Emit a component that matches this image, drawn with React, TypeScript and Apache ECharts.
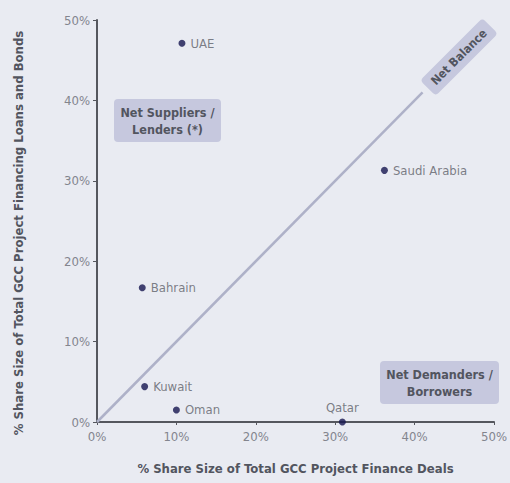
import React, { useEffect, useRef } from "react";
import * as echarts from "echarts";

const countries = ["UAE", "Saudi Arabia", "Bahrain", "Kuwait", "Oman", "Qatar"];
const financeDealsShare = [10.7, 36.2, 5.7, 6.0, 10.0, 30.9];
const loansBondsShare = [47.1, 31.3, 16.7, 4.4, 1.5, 0.0];
const labelPositions = ["right", "right", "right", "right", "right", "top"];
const balanceLine = [[0, 0], [41, 41]];

const FONT = "'DejaVu Sans Condensed', 'Liberation Sans Narrow', Arial, sans-serif";
const BG = "#e9ebf2";
const BOX = "#c6c8de";
const TXT = "#52555f";

export default function App() {
  const ref = useRef<HTMLDivElement>(null);
  useEffect(() => {
    if (!ref.current) return;
    const chart = echarts.init(ref.current, null, { renderer: "svg" });
    const points = countries.map((c, i) => ({
      name: c,
      value: [financeDealsShare[i], loansBondsShare[i]],
      label: { position: labelPositions[i] },
    }));
    chart.setOption({
      animation: false,
      backgroundColor: BG,
      textStyle: { fontFamily: FONT },
      grid: { left: 97, right: 12, top: 20, bottom: 61 },
      xAxis: {
        type: "value",
        min: 0,
        max: 50,
        interval: 10,
        splitLine: { show: false },
        axisLine: { lineStyle: { color: "#55575e", width: 2 } },
        axisTick: { show: true, length: 3, lineStyle: { color: "#55575e" } },
        axisLabel: { formatter: "{value}%", color: "#83858e", fontSize: 13, margin: 8, fontFamily: FONT },
        name: "% Share Size of Total GCC Project Finance Deals",
        nameLocation: "middle",
        nameGap: 40,
        nameTextStyle: { color: TXT, fontSize: 13, fontWeight: "bold", fontFamily: FONT },
      },
      yAxis: {
        type: "value",
        min: 0,
        max: 50,
        interval: 10,
        splitLine: { show: false },
        axisLine: { show: true, lineStyle: { color: "#55575e", width: 2 } },
        axisTick: { show: true, length: 4, lineStyle: { color: "#55575e" } },
        axisLabel: { formatter: "{value}%", color: "#83858e", fontSize: 13, margin: 7, fontFamily: FONT },
        name: "% Share Size of Total GCC Project Financing Loans and Bonds",
        nameLocation: "middle",
        nameGap: 72,
        nameTextStyle: {
          color: TXT,
          fontSize: 13,
          fontWeight: "bold",
          fontFamily: FONT,
          padding: [0, 24, 0, 0],
        },
      },
      series: [
        {
          type: "line",
          data: balanceLine,
          symbol: "none",
          lineStyle: { color: "#aeb1c8", width: 2.5 },
          z: 1,
        },
        {
          type: "scatter",
          data: points,
          symbolSize: 7,
          itemStyle: { color: "#15154f" },
          label: {
            show: true,
            formatter: "{b}",
            color: "#5d5f69",
            fontSize: 13,
            distance: 5,
            fontFamily: FONT,
          },
          z: 3,
        },
      ],
      graphic: [
        {
          type: "group",
          left: 114,
          top: 99,
          children: [
            { type: "rect", shape: { x: 0, y: 0, width: 107, height: 43, r: 4 }, style: { fill: BOX } },
            {
              type: "text",
              x: 53.5,
              y: 21.5,
              style: {
                text: "Net Suppliers /\nLenders (*)",
                fill: TXT,
                font: `bold 12.5px ${FONT}`,
                align: "center",
                verticalAlign: "middle",
                lineHeight: 17,
              },
            },
          ],
        },
        {
          type: "group",
          left: 380,
          top: 361,
          children: [
            { type: "rect", shape: { x: 0, y: 0, width: 119, height: 43, r: 4 }, style: { fill: BOX } },
            {
              type: "text",
              x: 59.5,
              y: 21.5,
              style: {
                text: "Net Demanders /\nBorrowers",
                fill: TXT,
                font: `bold 12.5px ${FONT}`,
                align: "center",
                verticalAlign: "middle",
                lineHeight: 17,
              },
            },
          ],
        },
        {
          type: "group",
          x: 459,
          y: 57,
          rotation: Math.PI / 4,
          children: [
            { type: "rect", shape: { x: -44, y: -11, width: 88, height: 22, r: 4 }, style: { fill: BOX } },
            {
              type: "text",
              x: 0,
              y: 0,
              style: {
                text: "Net Balance",
                fill: TXT,
                font: `bold 12px ${FONT}`,
                align: "center",
                verticalAlign: "middle",
              },
            },
          ],
        },
      ],
    });
    return () => chart.dispose();
  }, []);
  return (
    <div
      ref={ref}
      style={{ position: "fixed", left: 0, top: 0, width: 510, height: 483 }}
    />
  );
}
